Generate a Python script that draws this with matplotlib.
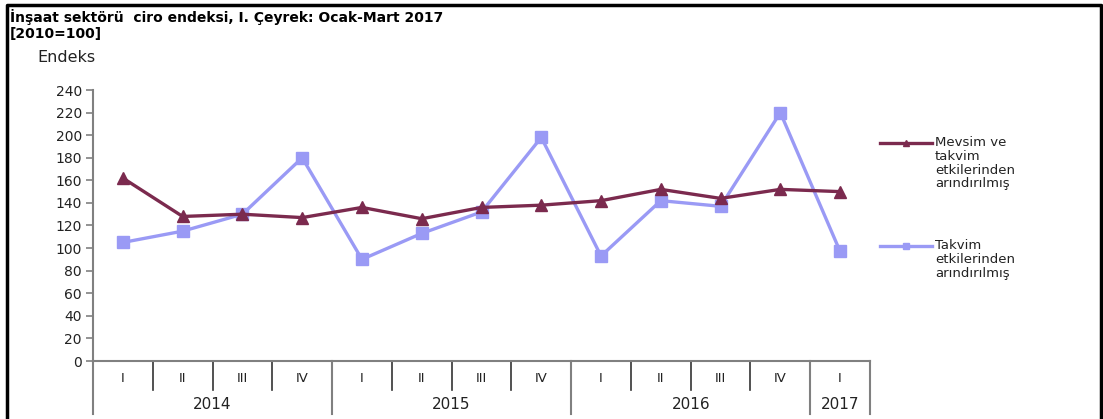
import numpy as np
import matplotlib

matplotlib.use('Agg')
import matplotlib.pyplot as plt
from matplotlib.lines import Line2D

plt.rcParams['font.family'] = ['DejaVu Sans']

quarters = ['I', 'II', 'III', 'IV', 'I', 'II', 'III', 'IV', 'I', 'II', 'III', 'IV', 'I']
years = ['2014', '2015', '2016', '2017']
quarters_per_year = [4, 4, 4, 1]

seasonal_adj = [162, 128, 130, 127, 136, 126, 136, 138, 142, 152, 144, 152, 150]
calendar_adj = [105, 115, 130, 180, 90, 113, 132, 198, 93, 142, 137, 220, 97]

label_seasonal = 'Mevsim ve\ntakvim\netkilerinden\narındırılmış'
label_calendar = 'Takvim\netkilerinden\narındırılmış'

red = '#7b2a4e'
blue = '#9a9af5'
axis_grey = '#808080'
text_col = '#222222'

fig = plt.figure(figsize=(11.03, 4.19), dpi=100)
ax = fig.add_axes([93 / 1103, 1 - 361 / 419, 777 / 1103, 271 / 419])

x = np.arange(len(quarters)) + 0.5
ax.plot(x, calendar_adj, color=blue, lw=2.4, marker='s', ms=8.5, mec=blue, mfc=blue)
ax.plot(x, seasonal_adj, color=red, lw=2.4, marker='^', ms=8.5, mec=red, mfc=red)

ax.set_xlim(0, len(quarters))
ax.set_ylim(0, 240)
ax.set_yticks(np.arange(0, 241, 20))
ax.set_xticks([])
for s in ['top', 'right']:
    ax.spines[s].set_visible(False)
for s in ['left', 'bottom']:
    ax.spines[s].set_color(axis_grey)
    ax.spines[s].set_linewidth(1.5)
ax.tick_params(axis='y', direction='out', length=5, width=1.2, color=axis_grey,
               labelsize=10, pad=3, labelcolor=text_col)

# category axis: quarter separators, year separators and labels
trans = ax.get_xaxis_transform()
year_edges = np.concatenate([[0], np.cumsum(quarters_per_year)])
for i in range(1, len(quarters)):
    if i not in year_edges:
        ax.plot([i, i], [0, -0.107], transform=trans, color='#333333', lw=1.2, clip_on=False)
for e in year_edges:
    ax.plot([e, e], [0, -0.196], transform=trans, color=axis_grey, lw=1.5, clip_on=False)
for xi, q in zip(x, quarters):
    ax.text(xi, -0.063, q, transform=trans, ha='center', va='center', fontsize=9.5, color=text_col)
for y0, y1, yr in zip(year_edges[:-1], year_edges[1:], years):
    ax.text((y0 + y1) / 2, -0.159, yr, transform=trans, ha='center', va='center',
            fontsize=11, color=text_col)

# legend drawn at the right of the plot
for ly, col, mk, lab in [(143, red, '^', label_seasonal), (246, blue, 's', label_calendar)]:
    fy = 1 - ly / 419
    fig.add_artist(Line2D([880 / 1103, 932 / 1103], [fy, fy], color=col, lw=2.4))
    fig.add_artist(Line2D([906 / 1103], [fy], color=col, marker=mk, ms=5, mec=col, mfc=col))
    fig.text(935 / 1103, fy + 7 / 419, lab, ha='left', va='top', fontsize=9.5,
             linespacing=1.08, color=text_col)

fig.text(10 / 1103, 1 - 9 / 419, 'İnşaat sektörü  ciro endeksi, I. Çeyrek: Ocak-Mart 2017',
         ha='left', va='top', fontsize=10, fontweight='bold')
fig.text(10 / 1103, 1 - 27 / 419, '[2010=100]', ha='left', va='top', fontsize=10,
         fontweight='bold')
fig.text(37 / 1103, 1 - 57 / 419, 'Endeks', ha='left', va='center', fontsize=11.5, color=text_col)

# frame around the figure (left, top, right)
fig.add_artist(Line2D([7 / 1103, 7 / 1103, 1101 / 1103, 1101 / 1103],
                      [0, 1 - 5 / 419, 1 - 5 / 419, 0], color='black', lw=2.5))

fig.savefig('out.png', dpi=100)
